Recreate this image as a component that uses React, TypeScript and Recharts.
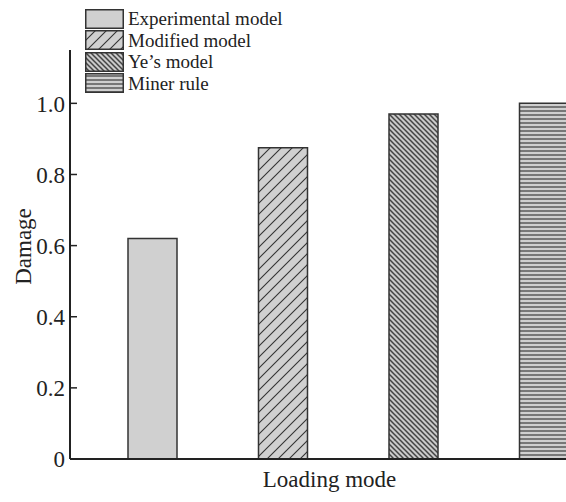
import { BarChart, Bar, Cell, XAxis, YAxis, Legend } from "recharts";

// ─── Data ─────────────────────────────────────────────────────────────────────

const loadingModes = ["Mode 1", "Mode 2", "Mode 3", "Mode 4"];
const seriesNames = ["Experimental model", "Modified model", "Ye\u2019s model", "Miner rule"];
const damageValues = [0.62, 0.875, 0.97, 1.0];
const damageTicks = [0, 0.2, 0.4, 0.6, 0.8, 1.0];

const fills = ["#d0d0d0", "url(#hatchFwd)", "url(#hatchBack)", "url(#hatchHoriz)"];

const data = loadingModes.map((mode, i) => ({
  mode,
  name: seriesNames[i],
  damage: damageValues[i],
}));

const FONT = '"Liberation Serif", "Times New Roman", serif';
const INK = "#222";

// ─── Pieces ───────────────────────────────────────────────────────────────────

function DamageTick(props: any) {
  const { x, y, payload } = props;
  const v = payload.value as number;
  return (
    <g>
      <line x1={x + 5} x2={x + 12} y1={y} y2={y} stroke={INK} strokeWidth={1.5} />
      <text
        x={x}
        y={y}
        dy="0.36em"
        textAnchor="end"
        fontFamily={FONT}
        fontSize={23}
        fill={INK}
      >
        {v === 0 ? "0" : v.toFixed(1)}
      </text>
    </g>
  );
}

function PatternLegend() {
  return (
    <div style={{ fontFamily: FONT, fontSize: 19, color: INK, lineHeight: 1 }}>
      {seriesNames.map((name, i) => (
        <div key={name} style={{ display: "flex", alignItems: "center", height: 21.5 }}>
          <svg width={39} height={20} style={{ display: "block" }}>
            <rect
              x={0.75}
              y={0.75}
              width={37.5}
              height={18.5}
              fill={fills[i]}
              stroke="#333"
              strokeWidth={1.5}
            />
          </svg>
          <span style={{ marginLeft: 4 }}>{name}</span>
        </div>
      ))}
    </div>
  );
}

// ─── Component ────────────────────────────────────────────────────────────────

export default function App() {
  return (
    <div
      style={{
        position: "absolute",
        left: 0,
        top: 0,
        width: 566,
        height: 502,
        overflow: "hidden",
        background: "#fff",
      }}
    >
      <BarChart
        width={609}
        height={502}
        data={data}
        margin={{ top: 50, right: 0, left: 0, bottom: 0 }}
        barSize={49}
      >
        <defs>
          <pattern id="hatchFwd" width={11} height={11} patternUnits="userSpaceOnUse">
            <rect width={11} height={11} fill="#d0d0d0" />
            <path d="M0,11 L11,0 M-2,2 L2,-2 M9,13 L13,9" stroke="#333" strokeWidth={1.1} />
          </pattern>
          <pattern id="hatchBack" width={5} height={5} patternUnits="userSpaceOnUse">
            <rect width={5} height={5} fill="#cacaca" />
            <path d="M0,0 L5,5 M-1,4 L1,6 M4,-1 L6,1" stroke="#444" strokeWidth={1.5} />
          </pattern>
          <pattern id="hatchHoriz" width={4} height={4} patternUnits="userSpaceOnUse">
            <rect width={4} height={4} fill="#cfcfcf" />
            <rect y={2} width={4} height={2} fill="#777" />
          </pattern>
        </defs>

        <XAxis
          dataKey="mode"
          height={43}
          padding={{ left: 17, right: 0 }}
          tick={false}
          tickLine={false}
          axisLine={{ stroke: INK, strokeWidth: 2 }}
          label={{
            value: "Loading mode",
            content: ({ viewBox }: any) => (
              <text
                x={viewBox.x + viewBox.width / 2 - 10}
                y={viewBox.y + 28}
                textAnchor="middle"
                fontFamily={FONT}
                fontSize={23}
                fill={INK}
              >
                Loading mode
              </text>
            ),
          }}
        />

        <YAxis
          width={70}
          domain={[0, 1.15]}
          ticks={damageTicks}
          interval={0}
          tickSize={0}
          tickMargin={5}
          tickLine={false}
          tick={<DamageTick />}
          axisLine={{ stroke: INK, strokeWidth: 2 }}
          label={{
            value: "Damage",
            content: ({ viewBox }: any) => {
              const cx = viewBox.x + 23;
              const cy = viewBox.y + viewBox.height / 2 - 8;
              return (
                <text
                  x={cx}
                  y={cy}
                  transform={`rotate(-90, ${cx}, ${cy})`}
                  textAnchor="middle"
                  dominantBaseline="central"
                  fontFamily={FONT}
                  fontSize={23}
                  fill={INK}
                >
                  Damage
                </text>
              );
            },
          }}
        />

        <Legend
          layout="vertical"
          align="center"
          verticalAlign="middle"
          content={() => <PatternLegend />}
          wrapperStyle={{ top: 8, left: 85, width: "auto" }}
        />

        <Bar dataKey="damage" stroke="#333" strokeWidth={1.5} isAnimationActive={false}>
          {data.map((d, i) => (
            <Cell key={d.mode} fill={fills[i]} />
          ))}
        </Bar>
      </BarChart>
    </div>
  );
}
